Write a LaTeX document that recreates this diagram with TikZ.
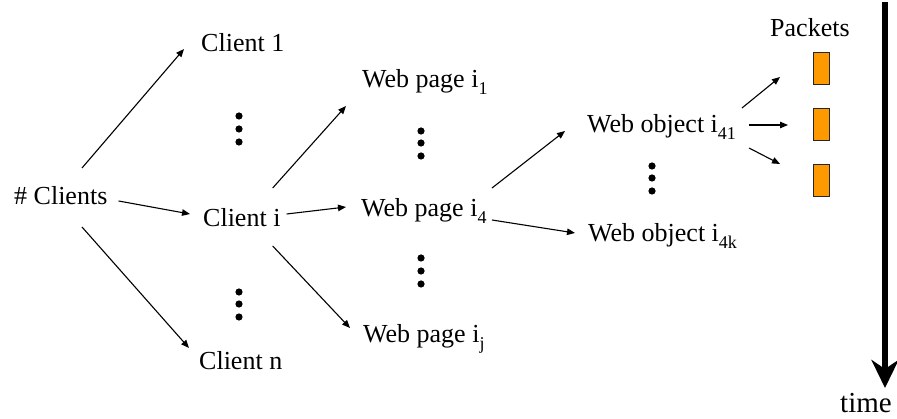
\documentclass[tikz,border=0pt]{standalone}
\usepackage{fontspec}
\setmainfont{Liberation Serif}
\usetikzlibrary{arrows.meta,positioning,calc}
\definecolor{packetcolor}{RGB}{255,153,0}
\newcommand{\idx}[1]{\raisebox{-7pt}{\fontsize{18}{18}\selectfont #1}}

\begin{document}
\begin{tikzpicture}[
    x=1pt, y=-1pt,
    txt/.style={inner sep=0pt, anchor=base west, font=\fontsize{26}{30}\selectfont},
    packet/.style={rectangle, draw=black!85, fill=packetcolor, line width=0.9pt, minimum width=16pt, minimum height=32pt, inner sep=0pt},
    conn/.style={-{Triangle[length=8pt,width=6.5pt]}, line width=1.1pt},
    timeline/.style={-{Stealth[length=28pt,width=27pt,inset=9pt]}, line width=6.5pt}
]
    \useasboundingbox (0,0) rectangle (897,419);

    \node[txt] (clients) at (14,205) {\# Clients};
    \node[txt] (client1) at (201,52) {Client 1};
    \node[txt] (clienti) at (203,227) {Client i};
    \node[txt] (clientn) at (199,370) {Client n};

    \draw[conn] ([shift={(68,-37)}]clients.base west) -- ([shift={(-17,-3)}]client1.base west);
    \draw[conn] ([shift={(11,-4)}]clients.base east) -- ([shift={(-13,-13)}]clienti.base west);
    \draw[conn] ([shift={(68,22)}]clients.base west) -- ([shift={(-10,-22)}]clientn.base west);

    \node[txt] (page1) at (362,88) {Web page i\idx{1}};
    \node[txt] (page4) at (361,217) {Web page i\idx{4}};
    \node[txt] (pagej) at (363,343) {Web page i\idx{j}};

    \draw[conn] ([shift={(-8,-39)}]clienti.base east) -- ([shift={(-16,18)}]page1.base west);
    \draw[conn] ([shift={(6,-13)}]clienti.base east) -- ([shift={(-15,-10)}]page4.base west);
    \draw[conn] ([shift={(-8,19)}]clienti.base east) -- ([shift={(-13,-15)}]pagej.base west);

    \node[txt] (obj41) at (587,133) {Web object i\idx{41}};
    \node[txt] (obj4k) at (588,242) {Web object i\idx{4k}};

    \draw[conn] ([shift={(131,-29)}]page4.base west) -- ([shift={(-22,-2)}]obj41.base west);
    \draw[conn] ([shift={(131,3)}]page4.base west) -- ([shift={(-13,-9)}]obj4k.base west);

    % packets of object i41
    \node[txt] (pktlabel) at (770,37) {Packets};
    \node[packet] (pk1) at (821,68) {};
    \node[packet] (pk2) at (821,124) {};
    \node[packet] (pk3) at (821,180) {};

    \draw[conn] ([shift={(155,-25)}]obj41.base west) -- ([shift={(-41,9)}]pk1.center);
    \draw[conn] ([shift={(162,-8)}]obj41.base west) -- ([shift={(-33,1)}]pk2.center);
    \draw[conn] ([shift={(162,15)}]obj41.base west) -- ([shift={(-41,-16)}]pk3.center);

    % vertical dots
    \foreach \x/\y in {239/116, 239/129, 239/142, 239/292, 239/304, 239/317,
                       421/131, 421/143, 421/156, 421/258, 421/271, 421/284,
                       652/166, 652/178, 652/191}
        \fill (\x,\y) circle (3.6pt);

    % time axis
    \coordinate (ttop) at (885,2);
    \coordinate (tend) at (885,388);
    \draw[timeline] (ttop) -- (tend);
    \node[txt, font=\fontsize{29}{32}\selectfont] (time) at (840,413) {time};
\end{tikzpicture}
\end{document}
